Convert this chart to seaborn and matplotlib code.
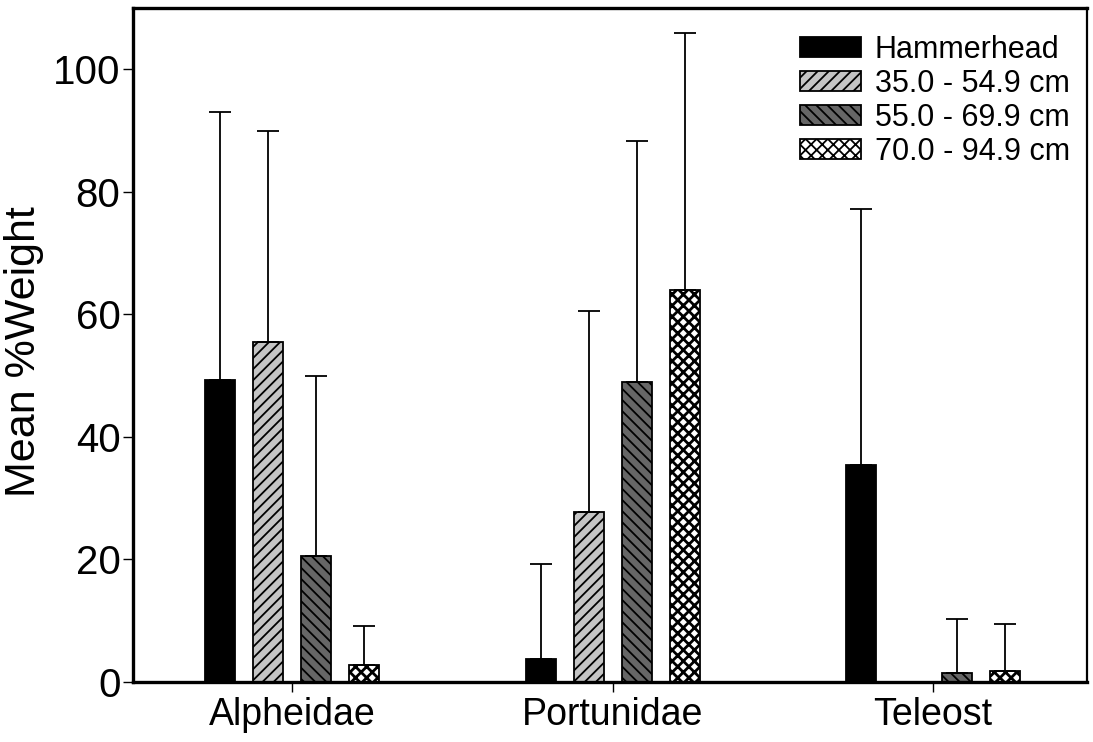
import numpy as np
import pandas as pd
import matplotlib
matplotlib.use("Agg")
import matplotlib.pyplot as plt
import seaborn as sns

families = ["Alpheidae", "Portunidae", "Teleost"]
groups = ["Hammerhead", "35.0 - 54.9 cm", "55.0 - 69.9 cm", "70.0 - 94.9 cm"]
# mean %weight per group (rows: groups, columns: families)
hammerhead = [49.3, 3.7, 35.4]
size_35_55 = [55.5, 27.8, 0.0]
size_55_70 = [20.5, 49.0, 1.5]
size_70_95 = [2.8, 64.0, 1.8]
# upper end of error bar (mean + SD)
hammerhead_top = [93.0, 19.3, 77.2]
size_35_55_top = [90.0, 60.5, np.nan]
size_55_70_top = [50.0, 88.3, 10.3]
size_70_95_top = [9.2, 106.0, 9.5]

means = [hammerhead, size_35_55, size_55_70, size_70_95]
tops = [hammerhead_top, size_35_55_top, size_55_70_top, size_70_95_top]

rows = []
for g, vals in zip(groups, means):
    for f, v in zip(families, vals):
        rows.append({"family": f, "group": g, "value": v})
df = pd.DataFrame(rows)

sns.set_style("ticks")
plt.rcParams["font.family"] = ["Liberation Sans", "DejaVu Sans"]
plt.rcParams["hatch.linewidth"] = 1.3
plt.rcParams["hatch.color"] = "black"
for k in ["text.color", "axes.labelcolor", "xtick.color", "ytick.color",
          "axes.edgecolor"]:
    plt.rcParams[k] = "black"

fig = plt.figure(figsize=(10.93, 7.42), dpi=100)
ax = fig.add_axes([0.1217, 0.0809, 0.9945 - 0.1217, 0.989 - 0.0809])

colors = ["#000000", "#c4c4c4", "#666666", "#ffffff"]
hatches = ["", "///", "\\\\\\", "xxx"]
hatch_lws = [1.0, 1.3, 1.3, 2.0]

sns.barplot(data=df, x="family", y="value", hue="group", order=families,
            hue_order=groups, palette=colors, width=0.6, gap=0.375,
            edgecolor="black", linewidth=1.3, legend=False, ax=ax,
            saturation=1, errorbar=None)

bar_containers = list(ax.containers)

for cont, hatch, hlw, top in zip(bar_containers, hatches, hatch_lws, tops):
    xs, ys, ups = [], [], []
    for patch, t in zip(cont.patches, top):
        patch.set_hatch(hatch)
        if hasattr(patch, "set_hatch_linewidth"):
            patch.set_hatch_linewidth(hlw)
        if not np.isnan(t):
            xs.append(patch.get_x() + patch.get_width() / 2)
            ys.append(patch.get_height())
            ups.append(t - patch.get_height())
    ax.errorbar(xs, ys, yerr=[np.zeros(len(ups)), ups], fmt="none",
                ecolor="black", elinewidth=1.3, capsize=8, capthick=1.3,
                zorder=1)

ax.set_xlim(-0.497, 2.48)
ax.set_ylim(0, 110)
ax.set_yticks([0, 20, 40, 60, 80, 100])
ax.set_xlabel("")
ax.set_ylabel("Mean %Weight", fontsize=31)
ax.yaxis.set_label_coords(-0.093, 0.49)

for side in ["left", "top", "bottom"]:
    ax.spines[side].set_linewidth(2.4)
    ax.spines[side].set_visible(True)
ax.spines["right"].set_visible(True)
ax.spines["right"].set_linewidth(1.6)

ax.tick_params(axis="y", labelsize=29, length=7, width=1.0, pad=2, direction="out")
ax.tick_params(axis="x", labelsize=27, length=7, width=1.0, pad=4, direction="out")

leg = ax.legend(handles=[c.patches[0] for c in bar_containers], labels=groups,
                loc="upper left", bbox_to_anchor=(800 / 1093, 1 - 35 / 742),
                bbox_transform=fig.transFigure, frameon=False, fontsize=22,
                handlelength=2.0, handleheight=0.65, handletextpad=0.45,
                labelspacing=0.13, borderpad=0, borderaxespad=0)

fig.savefig("out.png", dpi=100)
